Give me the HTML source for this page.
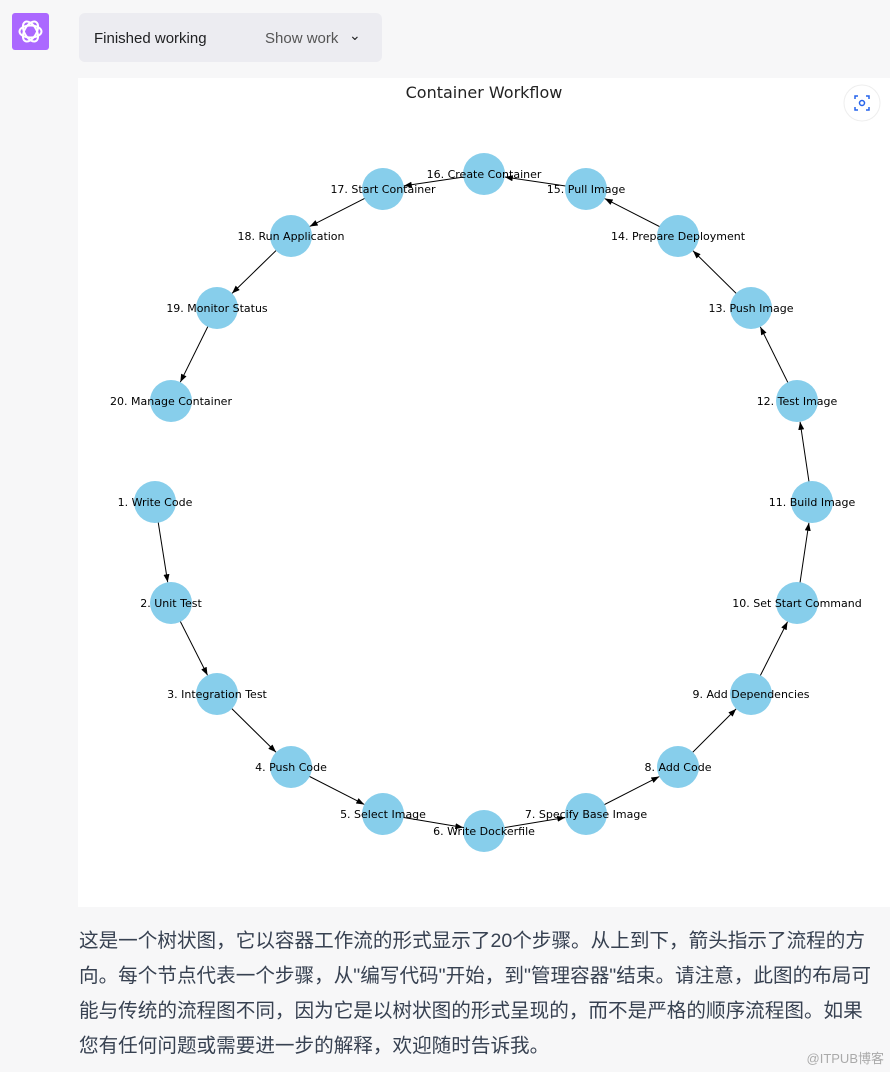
<!DOCTYPE html>
<html><head><meta charset="utf-8"><style>
body{margin:0;width:890px;height:1072px;background:#f7f7f8;position:relative;overflow:hidden;font-family:"Liberation Sans","Noto Sans CJK SC",sans-serif}
.logo{position:absolute;left:12px;top:13px;width:37px;height:37px;background:#ab68ff;border-radius:3px}
.bar{position:absolute;left:79px;top:13px;width:303px;height:49px;background:#ececf1;border-radius:6px;font-size:15px;color:#202123}
.bar span{position:absolute;top:17px}
.plot{position:absolute;left:78px;top:78px;width:812px;height:829px;background:#fff}
.txt{position:absolute;left:79px;top:924px;width:805px;font-size:19.6px;line-height:35px;color:#374151;white-space:nowrap}
.wm{position:absolute;right:6px;top:1048px;font-size:13px;color:#aaa}
</style></head><body>
<div class="logo"><svg width="37" height="37" viewBox="0 0 37 37"><g fill="none" stroke="#fff" stroke-width="2"><ellipse cx="18.5" cy="18.5" rx="11" ry="6"/><ellipse cx="18.5" cy="18.5" rx="11" ry="6" transform="rotate(60 18.5 18.5)"/><ellipse cx="18.5" cy="18.5" rx="11" ry="6" transform="rotate(120 18.5 18.5)"/></g></svg></div>
<div class="bar"><span style="left:15px">Finished working</span><span style="left:186px;color:#555">Show work</span><span style="left:270px;top:14px;font-size:14px">&#8964;</span></div>
<div class="plot"></div>
<svg style="position:absolute;left:0;top:0" width="890" height="907" id="g">
<defs><marker id="a" markerWidth="8" markerHeight="6" refX="8" refY="3" orient="auto"><path d="M0,0L8,3L0,6z" fill="#000"/></marker></defs>
<text x="484" y="98" font-family="DejaVu Sans,sans-serif" font-size="16" text-anchor="middle" fill="#222">Container Workflow</text>
<circle cx="862" cy="103" r="18" fill="#fff" stroke="#eee"/>
<path d="M855 99v-3h3M866 96h3v3M869 107v3h-3M858 110h-3v-3" stroke="#2563eb" stroke-width="1.5" fill="none"/><circle cx="862" cy="103" r="2.5" stroke="#2563eb" fill="none" stroke-width="1.5"/>
<g id="edges" stroke="#000" stroke-width="1" marker-end="url(#a)"></g>
<g id="nodes"></g>
</svg>
<div class="txt">这是一个树状图，它以容器工作流的形式显示了20个步骤。从上到下，箭头指示了流程的方<br>向。每个节点代表一个步骤，从"编写代码"开始，到"管理容器"结束。请注意，此图的布局可<br>能与传统的流程图不同，因为它是以树状图的形式呈现的，而不是严格的顺序流程图。如果<br>您有任何问题或需要进一步的解释，欢迎随时告诉我。</div>
<div class="wm">@ITPUB博客</div>
<script>
var P=[[155,502,"1. Write Code"],[171,603,"2. Unit Test"],[217,694,"3. Integration Test"],[291,767,"4. Push Code"],[383,814,"5. Select Image"],[484,831,"6. Write Dockerfile"],[586,814,"7. Specify Base Image"],[678,767,"8. Add Code"],[751,694,"9. Add Dependencies"],[797,603,"10. Set Start Command"],[812,502,"11. Build Image"],[797,401,"12. Test Image"],[751,308,"13. Push Image"],[678,236,"14. Prepare Deployment"],[586,189,"15. Pull Image"],[484,174,"16. Create Container"],[383,189,"17. Start Container"],[291,236,"18. Run Application"],[217,308,"19. Monitor Status"],[171,401,"20. Manage Container"]];
var ns="http://www.w3.org/2000/svg",E=document.getElementById("edges"),N=document.getElementById("nodes"),r=21;
for(var i=0;i<19;i++){var a=P[i],b=P[i+1],dx=b[0]-a[0],dy=b[1]-a[1],d=Math.hypot(dx,dy);var l=document.createElementNS(ns,"line");l.setAttribute("x1",a[0]);l.setAttribute("y1",a[1]);l.setAttribute("x2",b[0]-dx/d*r);l.setAttribute("y2",b[1]-dy/d*r);E.appendChild(l);}
P.forEach(function(p){var c=document.createElementNS(ns,"circle");c.setAttribute("cx",p[0]);c.setAttribute("cy",p[1]);c.setAttribute("r",r);c.setAttribute("fill","#87ceeb");N.insertBefore(c,N.firstChild);});
P.forEach(function(p){var t=document.createElementNS(ns,"text");t.setAttribute("x",p[0]);t.setAttribute("y",p[1]+4);t.setAttribute("text-anchor","middle");t.setAttribute("font-size","11");t.setAttribute("font-family","DejaVu Sans,sans-serif");t.textContent=p[2];N.appendChild(t);});
</script>
</body></html>
